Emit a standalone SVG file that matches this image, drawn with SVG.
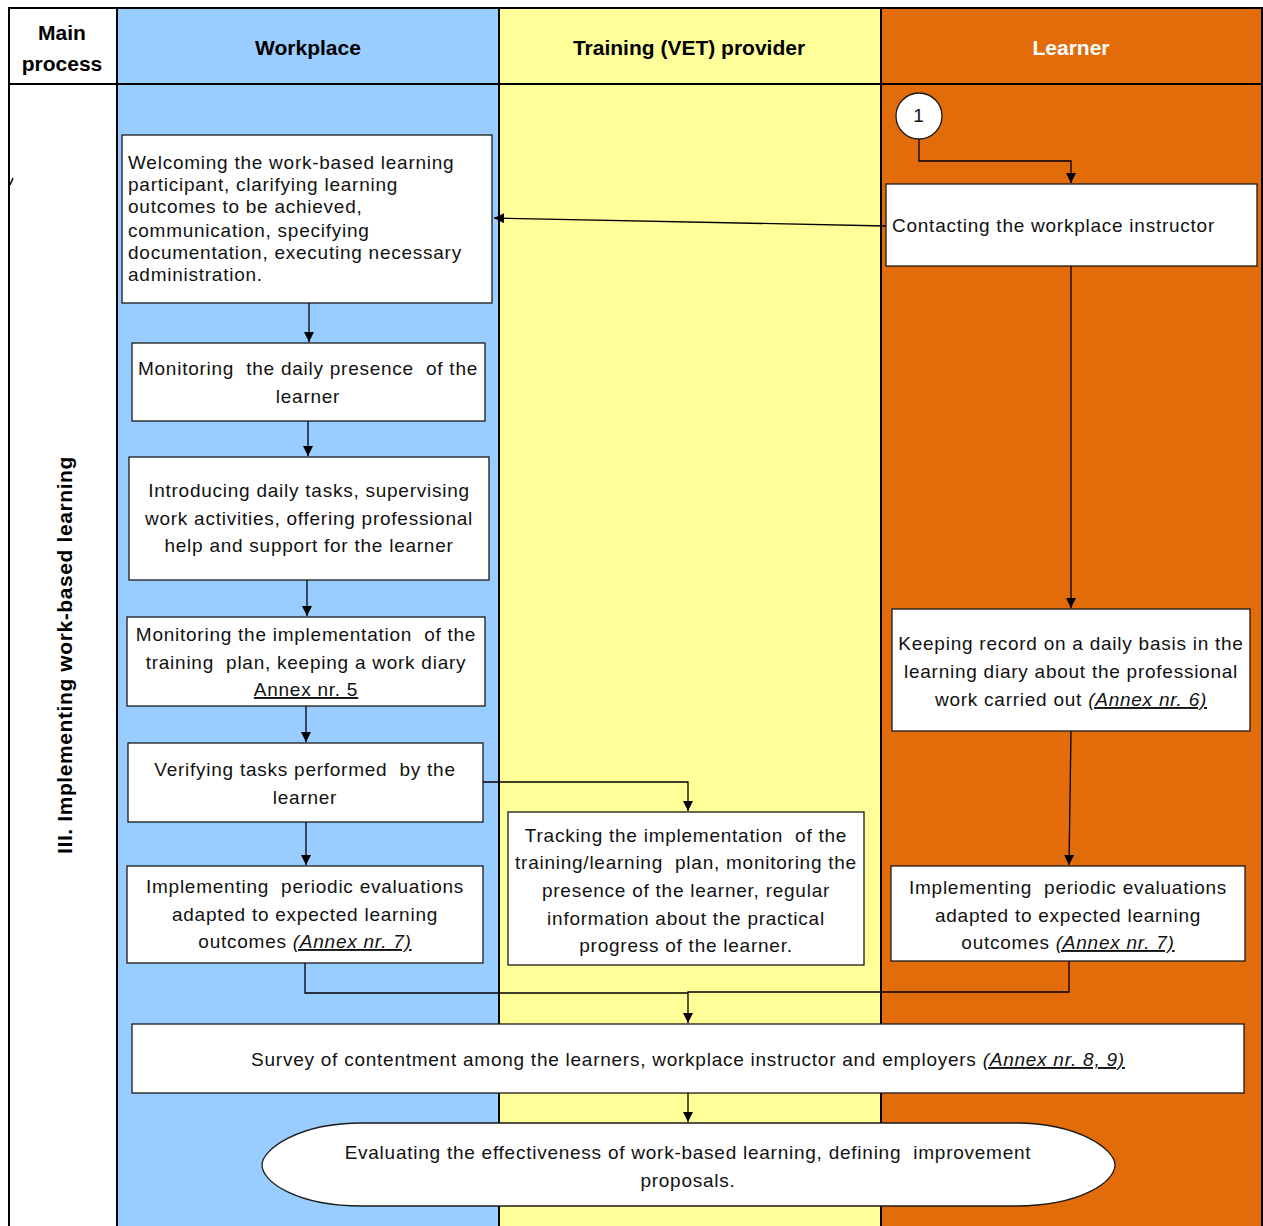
<svg xmlns="http://www.w3.org/2000/svg" width="1263" height="1226" viewBox="0 0 1263 1226">
<style>
.t{font-family:"Liberation Sans",Arial,sans-serif;font-size:19px;letter-spacing:0.75px;fill:#111;white-space:pre}
.c{text-anchor:middle}
.h{font-family:"Liberation Sans",Arial,sans-serif;font-size:21px;font-weight:bold;text-anchor:middle}
.box{fill:#fff;stroke:#1a1a1a;stroke-width:1.3}
.lane{stroke:#000;stroke-width:2;fill:none}
.con{fill:none;stroke:#000;stroke-width:1.3}
.u{text-decoration:underline}
.iu{text-decoration:underline;font-style:italic}
</style>
<defs>
<marker id="ah" viewBox="0 0 10 10" refX="10" refY="5" markerWidth="10" markerHeight="10" markerUnits="userSpaceOnUse" orient="auto">
<path d="M0,0 L10,5 L0,10 Z" fill="#000"/>
</marker>
</defs>
<g id="lanes">
<rect x="9" y="8" width="108" height="1218" fill="#fff"/>
<rect x="117" y="8" width="382" height="1218" fill="#99CCFF"/>
<rect x="499" y="8" width="382" height="1218" fill="#FFFF99"/>
<rect x="881" y="8" width="381" height="1218" fill="#E26B0A"/>
<path class="lane" d="M9,1226 V8 H1262 V1226 M117,8 V1226 M499,8 V1226 M881,8 V1226 M9,84 H1262"/>
<path d="M13,178 L10,185" stroke="#000" stroke-width="1.5"/>
<text class="h" x="62" y="40">Main</text>
<text class="h" x="62" y="71">process</text>
<text class="h" x="308" y="55">Workplace</text>
<text class="h" x="689" y="55">Training (VET) provider</text>
<text class="h" x="1071" y="55" fill="#fff">Learner</text>
<text class="h" transform="translate(72,655) rotate(-90)" x="0" y="0" style="letter-spacing:0.6px">III. Implementing work-based learning</text>
</g>
<g id="connectors">
<path class="con" d="M919,139 V161 H1071 V183" marker-end="url(#ah)"/>
<path class="con" d="M886,226 L494,218" marker-end="url(#ah)"/>
<path class="con" d="M1071,266 V608" marker-end="url(#ah)"/>
<path class="con" d="M1071,731 L1069,865" marker-end="url(#ah)"/>
<path class="con" d="M309,303 V342" marker-end="url(#ah)"/>
<path class="con" d="M308,421 V456" marker-end="url(#ah)"/>
<path class="con" d="M307,580 V616" marker-end="url(#ah)"/>
<path class="con" d="M306,706 V742" marker-end="url(#ah)"/>
<path class="con" d="M306,822 V865" marker-end="url(#ah)"/>
<path class="con" d="M483,782 H688 V811" marker-end="url(#ah)"/>
<path class="con" d="M305,963 V993 H688"/>
<path class="con" d="M1069,961 V992 H688 V1023" marker-end="url(#ah)"/>
<path class="con" d="M688,1093 V1122" marker-end="url(#ah)"/>
</g>
<g id="n_welcoming">
<rect class="box" x="122" y="135" width="370" height="168"/>
<text class="t" x="128" y="169">Welcoming the work-based learning</text>
<text class="t" x="128" y="191">participant, clarifying learning</text>
<text class="t" x="128" y="213">outcomes to be achieved,</text>
<text class="t" x="128" y="237">communication, specifying</text>
<text class="t" x="128" y="259">documentation, executing necessary</text>
<text class="t" x="128" y="281">administration.</text>
</g>
<g id="n_presence">
<rect class="box" x="132" y="343" width="353" height="78"/>
<text class="t c" x="308" y="375">Monitoring  the daily presence  of the</text>
<text class="t c" x="308" y="403">learner</text>
</g>
<g id="n_introducing">
<rect class="box" x="129" y="457" width="360" height="123"/>
<text class="t c" x="309" y="497">Introducing daily tasks, supervising</text>
<text class="t c" x="309" y="525">work activities, offering professional</text>
<text class="t c" x="309" y="552">help and support for the learner</text>
</g>
<g id="n_implementation">
<rect class="box" x="127" y="617" width="358" height="89"/>
<text class="t c" x="306" y="641">Monitoring the implementation  of the</text>
<text class="t c" x="306" y="669">training  plan, keeping a work diary</text>
<text class="t c u" x="306" y="696">Annex nr. 5</text>
</g>
<g id="n_verifying">
<rect class="box" x="128" y="743" width="355" height="79"/>
<text class="t c" x="305" y="776">Verifying tasks performed  by the</text>
<text class="t c" x="305" y="804">learner</text>
</g>
<g id="n_eval_workplace">
<rect class="box" x="127" y="866" width="356" height="97"/>
<text class="t c" x="305" y="893">Implementing  periodic evaluations</text>
<text class="t c" x="305" y="921">adapted to expected learning</text>
<text class="t c" x="305" y="948">outcomes <tspan class="iu">(Annex nr. 7)</tspan></text>
</g>
<g id="n_tracking">
<rect class="box" x="508" y="812" width="356" height="153"/>
<text class="t c" x="686" y="842">Tracking the implementation  of the</text>
<text class="t c" x="686" y="869">training/learning  plan, monitoring the</text>
<text class="t c" x="686" y="897">presence of the learner, regular</text>
<text class="t c" x="686" y="925">information about the practical</text>
<text class="t c" x="686" y="952">progress of the learner.</text>
</g>
<g id="n_start">
<circle cx="919" cy="116" r="23" fill="#fff" stroke="#1a1a1a" stroke-width="1.3"/>
<text class="t c" x="919" y="122">1</text>
</g>
<g id="n_contacting">
<rect class="box" x="886" y="184" width="371" height="82"/>
<text class="t" x="892" y="232">Contacting the workplace instructor</text>
</g>
<g id="n_record">
<rect class="box" x="892" y="609" width="358" height="122"/>
<text class="t c" x="1071" y="650">Keeping record on a daily basis in the</text>
<text class="t c" x="1071" y="678">learning diary about the professional</text>
<text class="t c" x="1071" y="706">work carried out <tspan class="iu">(Annex nr. 6)</tspan></text>
</g>
<g id="n_eval_learner">
<rect class="box" x="891" y="866" width="354" height="95"/>
<text class="t c" x="1068" y="894">Implementing  periodic evaluations</text>
<text class="t c" x="1068" y="922">adapted to expected learning</text>
<text class="t c" x="1068" y="949">outcomes <tspan class="iu">(Annex nr. 7)</tspan></text>
</g>
<g id="n_survey">
<rect class="box" x="132" y="1024" width="1112" height="69"/>
<text class="t c" x="688" y="1066">Survey of contentment among the learners, workplace instructor and employers <tspan class="iu">(Annex nr. 8, 9)</tspan></text>
</g>
<g id="n_evaluating">
<path class="box" d="M362,1123 H1015 C1080,1123 1115,1150 1115,1165 C1115,1182 1080,1206 1015,1206 H362 C297,1206 262,1182 262,1165 C262,1150 297,1123 362,1123 Z"/>
<text class="t c" x="688" y="1159">Evaluating the effectiveness of work-based learning, defining  improvement</text>
<text class="t c" x="688" y="1187">proposals.</text>
</g>
</svg>
